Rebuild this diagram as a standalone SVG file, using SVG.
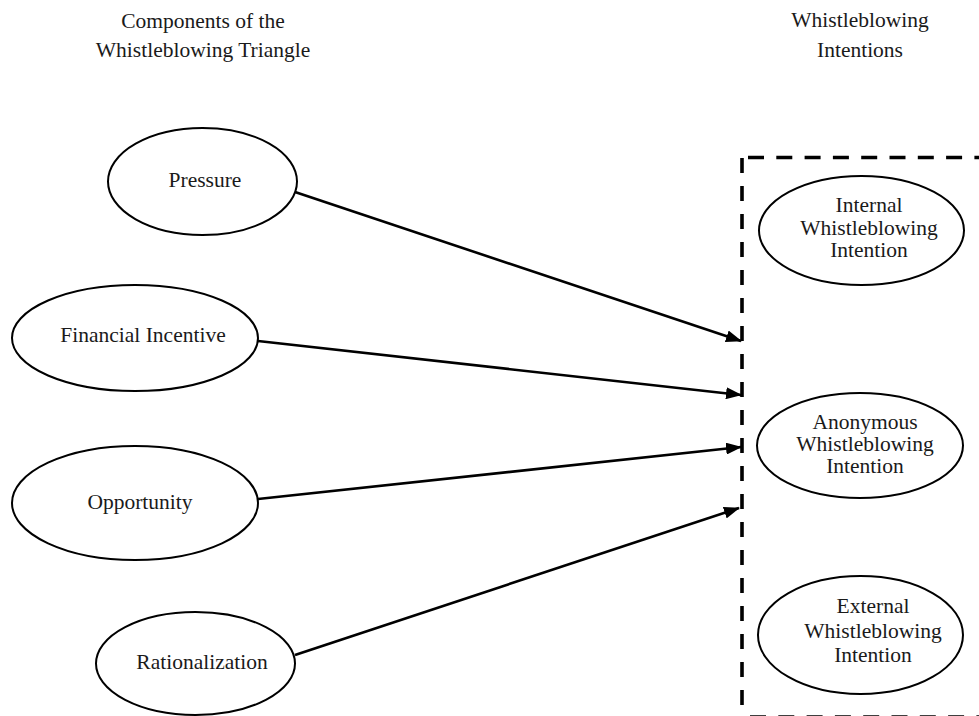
<svg xmlns="http://www.w3.org/2000/svg" width="979" height="716" viewBox="0 0 979 716">
  <style>
    .t { font-family: "Liberation Serif", "Times New Roman", serif; font-size: 21.5px; fill: #1a1a1a; text-anchor: middle; }
    .node ellipse { fill: #ffffff; stroke: #000000; stroke-width: 2; }
    .conn line { stroke: #000000; stroke-width: 2.6; }
    .dash { fill: none; stroke: #000000; stroke-width: 3.6; }
  </style>
  <defs>
    <marker id="arrow" markerUnits="userSpaceOnUse" markerWidth="16" markerHeight="12" refX="15" refY="6" orient="auto">
      <path d="M0,0 L16,6 L0,12 z" fill="#000000"/>
    </marker>
  </defs>
  <rect x="0" y="0" width="979" height="716" fill="#ffffff"/>

  <g id="titles">
    <text class="t" x="203" y="28">Components of the</text>
    <text class="t" x="203" y="57">Whistleblowing Triangle</text>
    <text class="t" x="860" y="27">Whistleblowing</text>
    <text class="t" x="860" y="57">Intentions</text>
  </g>

  <g id="group-box">
    <path class="dash" d="M742,158 V708" stroke-dasharray="15 13"/>
    <path class="dash" d="M748,157.5 H979" stroke-dasharray="16 12.3"/>
    <path class="dash" d="M750,717 H979" stroke-dasharray="16 12.3" stroke="#c8c8c8"/>
  </g>

  <g id="connectors" class="conn">
    <line x1="295" y1="192" x2="741" y2="341" marker-end="url(#arrow)"/>
    <line x1="258" y1="341" x2="741" y2="395" marker-end="url(#arrow)"/>
    <line x1="258" y1="499" x2="741" y2="447" marker-end="url(#arrow)"/>
    <line x1="295" y1="655" x2="739" y2="508" marker-end="url(#arrow)"/>
  </g>

  <g id="pressure" class="node">
    <ellipse cx="202.5" cy="181.5" rx="94.5" ry="53.5"/>
    <text class="t" x="205" y="187">Pressure</text>
  </g>
  <g id="financial-incentive" class="node">
    <ellipse cx="135" cy="338" rx="123" ry="53"/>
    <text class="t" x="143" y="342">Financial Incentive</text>
  </g>
  <g id="opportunity" class="node">
    <ellipse cx="135" cy="503" rx="123" ry="57"/>
    <text class="t" x="140" y="509">Opportunity</text>
  </g>
  <g id="rationalization" class="node">
    <ellipse cx="195.5" cy="663.5" rx="99.5" ry="51.5"/>
    <text class="t" x="202" y="669">Rationalization</text>
  </g>

  <g id="internal" class="node">
    <ellipse cx="861.5" cy="230.5" rx="102.5" ry="54.5"/>
    <text class="t" x="869" y="212">Internal</text>
    <text class="t" x="869" y="234.5">Whistleblowing</text>
    <text class="t" x="869" y="257">Intention</text>
  </g>
  <g id="anonymous" class="node">
    <ellipse cx="860" cy="445.5" rx="103" ry="52.5"/>
    <text class="t" x="865" y="429">Anonymous</text>
    <text class="t" x="865" y="451">Whistleblowing</text>
    <text class="t" x="865" y="473">Intention</text>
  </g>
  <g id="external" class="node">
    <ellipse cx="860.5" cy="635" rx="102.5" ry="59"/>
    <text class="t" x="873" y="613">External</text>
    <text class="t" x="873" y="638">Whistleblowing</text>
    <text class="t" x="873" y="662">Intention</text>
  </g>
</svg>
